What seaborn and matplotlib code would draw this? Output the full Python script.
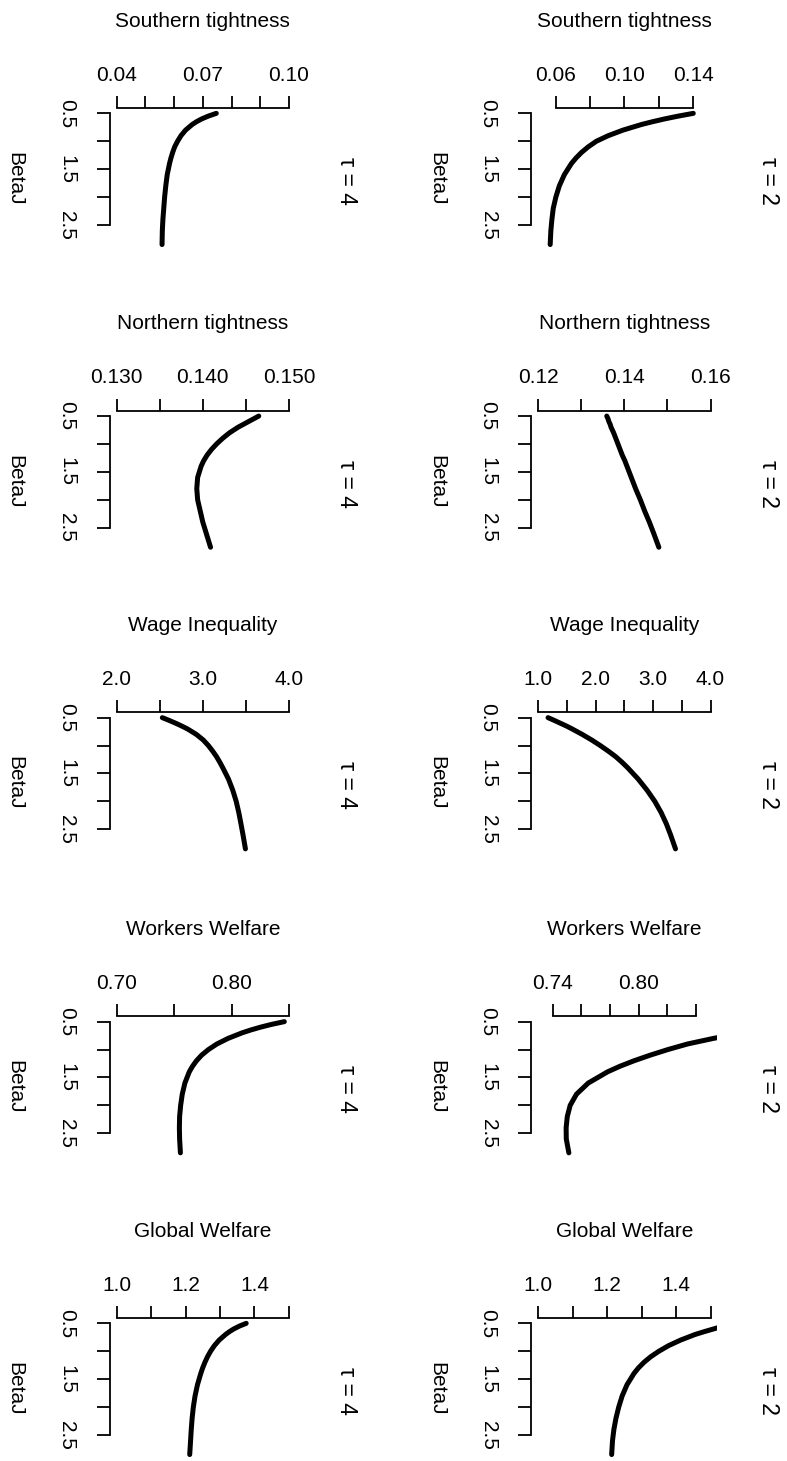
import numpy as np
import pandas as pd
import seaborn as sns
import matplotlib.pyplot as plt

sns.set_style("ticks")
plt.rcParams["font.family"] = ["Liberation Sans", "DejaVu Sans"]
plt.rcParams["font.size"] = 15
for k in ["text.color", "axes.edgecolor", "xtick.color", "ytick.color", "axes.labelcolor"]:
    plt.rcParams[k] = "black"

# BetaJ grid, shared by every panel
beta_j = [0.5, 0.55, 0.6, 0.65, 0.7, 0.8, 0.9, 1.0, 1.1, 1.2, 1.3, 1.4, 1.6, 1.8, 2.0, 2.2, 2.4, 2.6, 2.85]

# values, tau = 4 (left column)
south_tau4 = [0.0747, 0.0719, 0.0696, 0.0678, 0.0663, 0.0640, 0.0624, 0.0612, 0.0602, 0.0595,
              0.0589, 0.0584, 0.0576, 0.0571, 0.0567, 0.0564, 0.0561, 0.0559, 0.0558]
north_tau4 = [0.1465, 0.1459, 0.1453, 0.1447, 0.1441, 0.1431, 0.1423, 0.1416, 0.1410, 0.1405,
              0.1401, 0.1398, 0.1394, 0.1393, 0.1394, 0.1397, 0.1400, 0.1404, 0.1409]
wage_tau4 = [2.53, 2.61, 2.685, 2.755, 2.82, 2.925, 3.005, 3.065, 3.115, 3.16,
             3.198, 3.233, 3.298, 3.348, 3.388, 3.418, 3.443, 3.467, 3.495]
workers_tau4 = [0.846, 0.8347, 0.8251, 0.8167, 0.8093, 0.7970, 0.7873, 0.7799, 0.7740, 0.7695,
                0.7660, 0.7632, 0.7594, 0.7571, 0.7557, 0.7548, 0.7546, 0.7548, 0.7555]
global_tau4 = [1.376, 1.356, 1.340, 1.327, 1.316, 1.2975, 1.2835, 1.2725, 1.2635, 1.256,
               1.2495, 1.244, 1.2345, 1.2275, 1.2225, 1.219, 1.2165, 1.2145, 1.212]

# tau = 2 (right column)
south_tau2 = [0.1400, 0.1312, 0.1233, 0.1163, 0.1099, 0.0992, 0.0906, 0.0837, 0.0790, 0.0751,
              0.0719, 0.0692, 0.0651, 0.0622, 0.0602, 0.0587, 0.0579, 0.0573, 0.0569]
north_tau2 = [0.1359, 0.1362, 0.1364, 0.1367, 0.1369, 0.1375, 0.1380, 0.1385, 0.1390, 0.1395,
              0.1401, 0.1406, 0.1416, 0.1426, 0.1437, 0.1447, 0.1458, 0.1468, 0.1480]
wage_tau2 = [1.17, 1.28, 1.385, 1.49, 1.585, 1.765, 1.93, 2.08, 2.22, 2.35,
             2.46, 2.56, 2.74, 2.895, 3.03, 3.14, 3.23, 3.305, 3.39]
workers_tau2 = [0.921, 0.908, 0.896, 0.884, 0.873, 0.852, 0.834, 0.8203, 0.8080, 0.7968,
                0.7868, 0.7782, 0.7648, 0.7566, 0.7522, 0.7502, 0.7494, 0.7495, 0.7513]
global_tau2 = [1.566, 1.537, 1.509, 1.481, 1.455, 1.413, 1.378, 1.350, 1.326, 1.3065,
               1.2905, 1.2775, 1.2575, 1.2435, 1.2335, 1.2255, 1.2195, 1.2155, 1.213]

titles = ["Southern tightness", "Northern tightness", "Wage Inequality", "Workers Welfare", "Global Welfare"]
tau_labels = ["\u03c4 = 4", "\u03c4 = 2"]
series = [
    [south_tau4, north_tau4, wage_tau4, workers_tau4, global_tau4],
    [south_tau2, north_tau2, wage_tau2, workers_tau2, global_tau2],
]

lims = [
    [(0.04, 0.10), (0.130, 0.150), (2.0, 4.0), (0.70, 0.85), (1.0, 1.5)],
    [(0.05, 0.15), (0.12, 0.16), (1.0, 4.0), (0.73, 0.85), (1.0, 1.5)],
]
ticks = [
    [[0.04, 0.05, 0.06, 0.07, 0.08, 0.09, 0.10], [0.130, 0.135, 0.140, 0.145, 0.150],
     [2.0, 2.5, 3.0, 3.5, 4.0], [0.70, 0.75, 0.80, 0.85], [1.0, 1.1, 1.2, 1.3, 1.4, 1.5]],
    [[0.06, 0.08, 0.10, 0.12, 0.14], [0.12, 0.13, 0.14, 0.15, 0.16],
     [1.0, 1.5, 2.0, 2.5, 3.0, 3.5, 4.0], [0.74, 0.76, 0.78, 0.80, 0.82, 0.84], [1.0, 1.1, 1.2, 1.3, 1.4, 1.5]],
]
tick_labels = [
    [["0.04", "", "", "0.07", "", "", "0.10"], ["0.130", "", "0.140", "", "0.150"],
     ["2.0", "", "3.0", "", "4.0"], ["0.70", "", "0.80", ""], ["1.0", "", "1.2", "", "1.4", ""]],
    [["0.06", "", "0.10", "", "0.14"], ["0.12", "", "0.14", "", "0.16"],
     ["1.0", "", "2.0", "", "3.0", "", "4.0"], ["0.74", "", "", "0.80", "", ""], ["1.0", "", "1.2", "", "1.4", ""]],
]
beta_ticks = [0.5, 1.0, 1.5, 2.0, 2.5]
beta_tick_labels = ["0.5", "", "1.5", "", "2.5"]

W, H = 787, 1461
fig = plt.figure(figsize=(W / 100, H / 100), dpi=100)

col_x = [109.8, 531.4]
row_top = [108.1, 410.8, 712.4, 1016.4, 1318.1]
pw, ph = 186.0, 141.7
px = 0.72  # points per pixel

# R style 4% padding around the BetaJ range
b_lo = min(beta_j) - 0.04 * (max(beta_j) - min(beta_j))
b_hi = max(beta_j) + 0.04 * (max(beta_j) - min(beta_j))

for c in range(2):
    for r in range(5):
        ax = fig.add_axes([col_x[c] / W, 1 - (row_top[r] + ph) / H, pw / W, ph / H])
        df = pd.DataFrame({"value": series[c][r], "BetaJ": beta_j})
        sns.lineplot(data=df, x="value", y="BetaJ", ax=ax, sort=False, estimator=None,
                     color="black", linewidth=3.6, solid_capstyle="round", solid_joinstyle="round")
        lo, hi = lims[c][r]
        ext = 0.04 * (hi - lo)
        ax.set_xlim(lo - ext, hi + ext)
        ax.set_ylim(b_hi, b_lo)

        for s in ["right", "bottom"]:
            ax.spines[s].set_visible(False)
        ax.spines["top"].set_bounds(ticks[c][r][0], ticks[c][r][-1])
        ax.spines["left"].set_bounds(beta_ticks[0], beta_ticks[-1])
        for s in ["top", "left"]:
            ax.spines[s].set_linewidth(1.3)

        ax.xaxis.tick_top()
        ax.set_xticks(ticks[c][r])
        ax.set_xticklabels(tick_labels[c][r])
        ax.set_yticks(beta_ticks)
        ax.set_yticklabels(beta_tick_labels, rotation=-90, va="center")
        ax.tick_params(axis="x", length=12.3 * px, width=1.3, pad=8)
        ax.tick_params(axis="y", length=13 * px, width=1.3, pad=15)
        ax.set_xlabel("")
        ax.set_ylabel("")

        ax.annotate(titles[r], xy=(0.5, 1), xycoords="axes fraction",
                    xytext=(0, 87 * px), textcoords="offset points",
                    ha="center", va="center")
        ax.annotate("BetaJ", xy=(0, 0.5), xycoords="axes fraction",
                    xytext=(-95 * px, 0), textcoords="offset points",
                    ha="center", va="center", rotation=-90)
        ax.annotate(tau_labels[c], xy=(1, 0.5), xycoords="axes fraction",
                    xytext=(51 * px, -2 * px), textcoords="offset points",
                    ha="center", va="center", rotation=-90, fontsize=16.5)

fig.savefig("out.png", dpi=100)
